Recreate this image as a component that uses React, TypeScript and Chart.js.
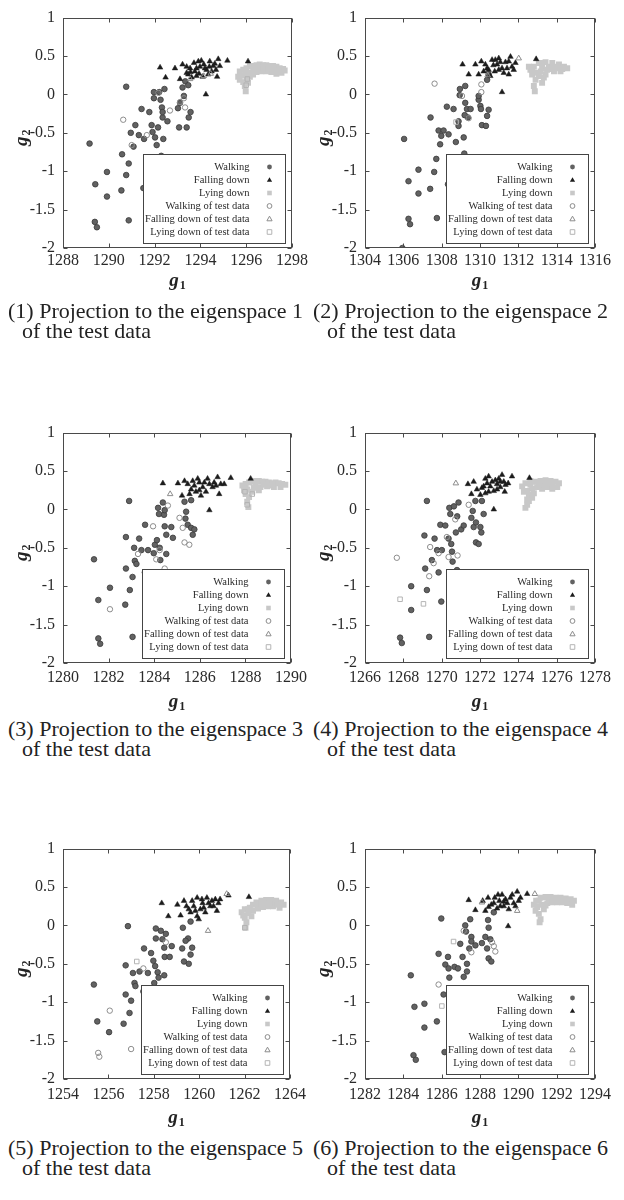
import React, { useEffect, useRef } from "react";
import { Chart, registerables } from "chart.js";
Chart.register(...registerables);

type P = [number, number];

const FONT = '"Liberation Serif", "Times New Roman", serif';

const legendLabels = [
  "Walking",
  "Falling down",
  "Lying down",
  "Walking of test data",
  "Falling down of test data",
  "Lying down of test data",
];

const captions = [
  "(1) Projection to the eigenspace 1",
  "(2) Projection to the eigenspace 2",
  "(3) Projection to the eigenspace 3",
  "(4) Projection to the eigenspace 4",
  "(5) Projection to the eigenspace 5",
  "(6) Projection to the eigenspace 6",
];
const captionLine2 = "of the test data";

const xMins = [1288, 1304, 1280, 1266, 1254, 1282];
const xMaxs = [1298, 1316, 1290, 1278, 1264, 1294];
const yMin = -2;
const yMax = 1;

const p1Walking: P[] = [
  [1289.16, -0.64], [1289.41, -1.17], [1289.92, -1.01], [1289.92, -1.33], [1289.39, -1.66], [1289.48, -1.73],
  [1290.76, 0.10], [1290.58, -0.78], [1290.55, -1.25], [1290.76, -1.05], [1290.87, -0.90], [1290.87, -1.64],
  [1290.96, -0.50], [1291.16, -0.40], [1291.31, -0.53], [1291.08, -0.68], [1291.43, -0.19], [1291.51, -1.22],
  [1291.54, -0.58], [1291.77, -0.23], [1291.87, -0.40], [1291.91, -0.49], [1291.97, 0.03], [1291.97, -0.05],
  [1292.02, -0.56], [1292.09, -0.66], [1292.15, -0.43], [1292.20, 0.03], [1292.26, -0.07], [1292.32, -0.17],
  [1292.35, -0.30], [1292.38, -0.58], [1292.29, -0.80], [1292.43, 0.07], [1292.56, -0.35], [1292.35, -0.23],
  [1293.02, -0.18], [1293.07, -0.43], [1293.11, -0.11], [1293.22, 0.09], [1293.28, -0.02], [1293.40, -0.43],
  [1293.49, -0.30], [1293.57, -0.23], [1293.34, 0.17], [1293.47, 0.12],
];
const p1Falling: P[] = [
  [1292.24, 0.35], [1292.48, 0.22], [1292.89, 0.34], [1293.11, 0.20], [1293.22, 0.39], [1293.40, 0.36],
  [1293.57, 0.29], [1293.72, 0.41], [1293.83, 0.34], [1293.94, 0.27], [1294.04, 0.44], [1294.15, 0.39],
  [1294.27, 0.32], [1294.41, 0.43], [1294.56, 0.37], [1294.68, 0.32], [1294.73, 0.23], [1294.78, 0.46],
  [1294.24, 0.00], [1295.18, 0.44], [1296.08, 0.43], [1293.62, 0.22], [1293.47, 0.26], [1294.10, 0.23],
  [1294.34, 0.26], [1294.49, 0.30], [1294.85, 0.37], [1293.83, 0.24], [1293.98, 0.36], [1293.76, 0.30],
  [1293.55, 0.34], [1294.20, 0.34], [1294.39, 0.36], [1294.63, 0.40], [1293.91, 0.43], [1293.40, 0.28],
];
const p1Lying: P[] = [
  [1295.72, 0.30], [1295.87, 0.32], [1296.01, 0.34], [1296.16, 0.37], [1296.30, 0.37], [1296.45, 0.38],
  [1296.59, 0.39], [1296.74, 0.38], [1296.88, 0.38], [1297.03, 0.37], [1297.17, 0.37], [1297.32, 0.36],
  [1297.46, 0.34], [1297.61, 0.33], [1297.68, 0.31], [1297.54, 0.28], [1297.32, 0.27], [1297.10, 0.29],
  [1296.88, 0.30], [1296.66, 0.30], [1296.45, 0.29], [1296.23, 0.28], [1296.01, 0.26], [1295.79, 0.25],
  [1295.65, 0.23], [1295.72, 0.19], [1295.87, 0.16], [1296.01, 0.20], [1296.16, 0.23], [1295.94, 0.11],
  [1295.98, 0.04], [1296.08, 0.15], [1296.30, 0.32], [1296.52, 0.34], [1296.74, 0.34], [1296.96, 0.34],
  [1297.17, 0.32], [1297.39, 0.31], [1296.30, 0.26], [1296.01, 0.30],
];
const p1TestWalking: P[] = [
  [1290.63, -0.33], [1292.67, -0.21], [1293.11, -0.10], [1293.28, -0.05], [1291.66, -0.53], [1291.00, -0.66],
  [1293.33, -0.17], [1292.17, 0.02],
];
const p1TestFalling: P[] = [[1294.15, 0.24], [1293.55, 0.20], [1294.45, 0.27]];
const p1TestLying: P[] = [[1296.05, 0.20], [1296.00, 0.12]];

const p2Walking: P[] = [
  [1306.04, -0.58], [1306.27, -1.13], [1306.79, -0.98], [1306.79, -1.29], [1306.27, -1.62], [1306.35, -1.69],
  [1305.95, -2.00], [1307.42, -0.30], [1307.40, -1.23], [1307.61, -1.01], [1307.72, -0.84], [1307.75, -1.61],
  [1307.84, -0.47], [1307.92, -0.65], [1307.98, -0.54], [1308.27, -0.16], [1308.33, -1.17], [1308.10, -0.47],
  [1308.36, -0.52], [1308.62, -0.19], [1308.74, -0.62], [1308.88, -0.41], [1308.95, 0.07], [1308.94, -0.01],
  [1309.15, -0.56], [1309.18, -0.77], [1309.23, 0.11], [1309.23, -0.11], [1309.32, -0.19], [1309.37, -0.30],
  [1309.20, -0.27], [1309.51, -0.19], [1309.93, -0.07], [1310.02, -0.15], [1310.05, -0.19], [1310.10, -0.40],
  [1310.31, -0.41], [1310.37, -0.28], [1310.45, -0.20], [1310.37, 0.19], [1310.45, 0.26], [1309.93, -0.02],
  [1308.88, -0.35],
];
const p2Falling: P[] = [
  [1309.09, 0.39], [1309.41, 0.26], [1309.76, 0.39], [1309.93, 0.26], [1310.07, 0.43], [1310.37, 0.34],
  [1310.63, 0.45], [1310.77, 0.30], [1310.89, 0.39], [1310.98, 0.47], [1311.15, 0.34], [1311.33, 0.42],
  [1311.50, 0.26], [1311.59, 0.49], [1311.67, 0.36], [1311.85, 0.41], [1311.15, 0.03], [1312.93, 0.46],
  [1310.54, 0.24], [1310.19, 0.30], [1310.70, 0.38], [1311.06, 0.42], [1311.41, 0.34], [1311.76, 0.32],
  [1310.28, 0.39], [1310.98, 0.32], [1311.24, 0.28], [1310.45, 0.32], [1310.80, 0.45], [1311.50, 0.43],
];
const p2Lying: P[] = [
  [1312.55, 0.36], [1312.63, 0.32], [1312.72, 0.26], [1312.81, 0.36], [1312.90, 0.19], [1312.81, 0.11],
  [1312.86, 0.04], [1312.98, 0.28], [1313.07, 0.41], [1313.07, 0.24], [1313.24, 0.34], [1313.24, 0.15],
  [1313.42, 0.42], [1313.42, 0.26], [1313.50, 0.32], [1313.59, 0.36], [1313.77, 0.41], [1313.86, 0.30],
  [1313.94, 0.34], [1314.12, 0.39], [1314.20, 0.30], [1314.38, 0.36], [1314.55, 0.34], [1313.24, 0.41],
  [1313.68, 0.33], [1314.03, 0.36], [1313.33, 0.22], [1312.72, 0.32], [1314.29, 0.33], [1313.16, 0.30],
];
const p2TestWalking: P[] = [
  [1307.63, 0.14], [1309.06, -0.02], [1309.41, -0.31], [1310.07, 0.03], [1310.07, 0.13],
];
const p2TestFalling: P[] = [[1312.02, 0.47], [1310.40, 0.25]];
const p2TestLying: P[] = [[1308.75, -0.36]];

const p3Walking: P[] = [
  [1281.36, -0.65], [1281.55, -1.18], [1282.06, -1.02], [1281.55, -1.68], [1281.63, -1.75], [1282.90, 0.11],
  [1282.76, -0.36], [1282.76, -0.77], [1282.73, -1.24], [1282.93, -1.05], [1283.05, -0.88], [1283.05, -1.66],
  [1283.12, -0.50], [1283.15, -0.67], [1283.22, -0.71], [1283.34, -0.38], [1283.44, -0.53], [1283.59, -0.82],
  [1283.60, -0.20], [1283.66, -1.21], [1283.73, -0.53], [1283.98, -0.57], [1284.03, -0.46], [1284.12, -0.40],
  [1284.17, 0.02], [1284.21, -0.06], [1284.24, -0.50], [1284.27, -0.66], [1284.38, 0.09], [1284.43, -0.07],
  [1284.46, -0.22], [1284.53, -0.33], [1284.53, -0.58], [1284.75, -0.23], [1284.82, -0.37], [1285.33, 0.10],
  [1285.40, -0.03], [1285.37, -0.12], [1285.47, -0.20], [1285.62, -0.24], [1285.69, -0.33], [1285.76, -0.26],
  [1285.62, 0.12], [1284.46, -0.01],
];
const p3Falling: P[] = [
  [1284.38, 0.34], [1285.04, 0.34], [1285.22, 0.18], [1285.33, 0.37], [1285.47, 0.33], [1285.62, 0.26],
  [1285.76, 0.31], [1285.91, 0.40], [1285.98, 0.25], [1286.05, 0.18], [1286.20, 0.35], [1286.34, 0.40],
  [1286.42, -0.01], [1286.56, 0.29], [1286.63, 0.35], [1286.78, 0.42], [1286.85, 0.20], [1287.36, 0.41],
  [1288.23, 0.40], [1286.92, 0.33], [1286.13, 0.29], [1285.69, 0.37], [1285.55, 0.20], [1286.27, 0.23],
  [1286.42, 0.33], [1285.98, 0.35], [1285.83, 0.23], [1286.71, 0.31], [1287.07, 0.33],
];
const p3Lying: P[] = [
  [1287.87, 0.31], [1287.94, 0.25], [1288.01, 0.33], [1288.01, 0.20], [1288.08, 0.26], [1288.08, 0.10],
  [1288.13, 0.03], [1288.16, 0.35], [1288.16, 0.16], [1288.30, 0.36], [1288.30, 0.23], [1288.37, 0.28],
  [1288.45, 0.37], [1288.59, 0.37], [1288.59, 0.25], [1288.66, 0.29], [1288.74, 0.36], [1288.88, 0.36],
  [1288.95, 0.30], [1289.03, 0.35], [1289.17, 0.34], [1289.25, 0.29], [1289.32, 0.35], [1289.46, 0.34],
  [1289.54, 0.29], [1289.61, 0.33], [1289.75, 0.32], [1288.81, 0.32], [1288.45, 0.31], [1289.10, 0.31],
];
const p3TestWalking: P[] = [
  [1283.95, -0.22], [1284.24, -0.53], [1284.09, -0.65], [1284.46, -0.77], [1284.60, 0.05], [1285.25, -0.24],
  [1285.33, -0.43], [1285.54, -0.46], [1282.06, -1.30], [1283.29, -0.58], [1285.11, -0.11],
];
const p3TestFalling: P[] = [[1284.70, 0.20]];
const p3TestLying: P[] = [[1287.98, 0.23], [1288.08, 0.06], [1288.30, 0.20]];

const p4Walking: P[] = [
  [1269.23, 0.11], [1269.10, -0.34], [1269.14, -0.77], [1269.23, -1.05], [1268.41, -1.00], [1268.41, -1.31],
  [1267.83, -1.67], [1267.92, -1.74], [1269.35, -1.66], [1269.63, -0.38], [1269.49, -0.66], [1269.76, -0.53],
  [1269.84, -0.82], [1269.93, -0.20], [1269.98, -1.20], [1270.01, -0.53], [1270.19, -0.21], [1270.36, -0.38],
  [1270.40, 0.02], [1270.45, -0.06], [1270.50, -0.45], [1270.54, -0.55], [1270.57, -0.68], [1270.64, 0.04],
  [1270.74, -0.30], [1270.80, -0.79], [1270.81, -0.09], [1270.88, 0.09], [1271.02, -0.26], [1271.15, -0.21],
  [1271.55, -0.11], [1271.62, -0.02], [1271.67, -0.23], [1271.76, 0.11], [1271.79, -0.43], [1271.93, -0.45],
  [1272.02, -0.23], [1272.10, 0.11], [1272.07, -0.30], [1272.19, -0.06], [1271.79, -0.17],
];
const p4Falling: P[] = [
  [1271.37, 0.33], [1271.55, 0.20], [1271.67, 0.36], [1272.02, 0.19], [1272.10, 0.28], [1272.28, 0.40],
  [1272.45, 0.43], [1272.54, 0.30], [1272.72, 0.24], [1272.80, 0.38], [1272.89, 0.33], [1272.98, 0.40],
  [1273.06, 0.29], [1273.15, 0.45], [1273.24, 0.36], [1273.29, 0.23], [1273.33, 0.32], [1272.72, 0.00],
  [1273.67, 0.43], [1274.58, 0.41], [1272.37, 0.34], [1272.63, 0.36], [1272.19, 0.30], [1272.89, 0.26],
  [1272.45, 0.23], [1273.06, 0.36], [1271.84, 0.26], [1273.47, 0.34], [1272.28, 0.21],
];
const p4Lying: P[] = [
  [1274.20, 0.30], [1274.29, 0.23], [1274.37, 0.34], [1274.37, 0.02], [1274.46, 0.24], [1274.46, 0.13],
  [1274.46, 0.06], [1274.55, 0.19], [1274.63, 0.37], [1274.72, 0.27], [1274.81, 0.21], [1274.90, 0.36],
  [1274.98, 0.29], [1275.16, 0.37], [1275.24, 0.33], [1275.24, 0.27], [1275.42, 0.38], [1275.51, 0.29],
  [1275.68, 0.37], [1275.77, 0.32], [1275.77, 0.27], [1275.94, 0.36], [1276.03, 0.29], [1276.12, 0.34],
  [1274.63, 0.32], [1275.07, 0.32], [1275.51, 0.34], [1274.72, 0.15], [1274.55, 0.11],
];
const p4TestWalking: P[] = [
  [1267.66, -0.63], [1269.40, -0.49], [1269.58, -0.70], [1269.35, -0.87], [1270.27, -0.36], [1270.83, -0.60],
  [1270.36, -0.62], [1270.71, -0.13], [1271.41, 0.06], [1269.84, -0.57],
];
const p4TestFalling: P[] = [[1270.74, 0.34]];
const p4TestLying: P[] = [[1267.83, -1.17], [1269.05, -1.23]];

const p5Walking: P[] = [
  [1255.36, -0.77], [1255.51, -1.25], [1256.03, -1.39], [1256.86, -0.01], [1256.76, -0.52], [1256.76, -0.90],
  [1256.67, -1.28], [1256.93, -1.14], [1257.00, -0.98], [1257.08, -0.62], [1257.15, -0.75], [1257.19, -0.79],
  [1257.37, -0.60], [1257.54, -0.86], [1257.57, -0.30], [1257.74, -0.62], [1257.88, -0.36], [1257.98, -0.46],
  [1258.02, -0.75], [1258.06, -0.53], [1258.09, -0.04], [1258.09, -0.17], [1258.17, -0.61], [1258.21, -0.68],
  [1258.31, -0.07], [1258.38, -0.18], [1258.38, -0.89], [1258.46, -0.65], [1258.46, -0.29], [1258.48, -0.41],
  [1258.53, -0.11], [1258.70, -0.41], [1258.79, -0.27], [1259.28, -0.03], [1259.25, -0.30], [1259.33, -0.47],
  [1259.54, -0.50], [1259.51, -0.17], [1259.62, -0.38], [1259.69, -0.29], [1259.62, 0.05], [1259.40, -0.20],
];
const p5Falling: P[] = [
  [1258.35, 0.29], [1258.64, 0.12], [1259.04, 0.27], [1259.18, 0.13], [1259.33, 0.32], [1259.44, 0.25],
  [1259.62, 0.17], [1259.76, 0.25], [1259.91, 0.36], [1259.98, 0.08], [1260.05, 0.21], [1260.15, 0.29],
  [1260.27, 0.17], [1260.34, 0.36], [1260.49, 0.25], [1260.56, 0.32], [1260.78, 0.19], [1260.85, 0.29],
  [1260.92, 0.34], [1261.29, 0.39], [1262.19, 0.37], [1259.83, 0.19], [1260.20, 0.23], [1260.41, 0.29],
  [1260.63, 0.25], [1259.69, 0.32], [1259.54, 0.21], [1260.12, 0.34], [1260.71, 0.34], [1259.91, 0.12],
];
const p5Lying: P[] = [
  [1261.87, 0.17], [1261.94, 0.13], [1262.01, 0.21], [1262.01, 0.10], [1262.04, -0.03], [1262.08, 0.04],
  [1262.16, 0.16], [1262.23, 0.23], [1262.30, 0.12], [1262.37, 0.27], [1262.37, 0.19], [1262.52, 0.30],
  [1262.59, 0.22], [1262.59, 0.27], [1262.74, 0.32], [1262.81, 0.24], [1262.88, 0.29], [1262.95, 0.33],
  [1263.03, 0.25], [1263.17, 0.33], [1263.25, 0.25], [1263.32, 0.29], [1263.39, 0.32], [1263.54, 0.23],
  [1263.61, 0.30], [1263.72, 0.27], [1262.16, 0.21], [1262.74, 0.27], [1263.10, 0.29], [1263.46, 0.27],
];
const p5TestWalking: P[] = [
  [1256.06, -1.11], [1257.00, -1.61], [1255.55, -1.66], [1255.60, -1.71], [1257.54, -0.56], [1257.63, -1.22],
  [1258.53, -0.22],
];
const p5TestFalling: P[] = [[1260.39, -0.07], [1261.21, 0.41]];
const p5TestLying: P[] = [[1257.25, -0.47], [1262.01, -0.03]];

const p6Walking: P[] = [
  [1284.39, -0.65], [1284.58, -1.06], [1285.10, -1.02], [1285.10, -1.33], [1284.53, -1.69], [1284.65, -1.75],
  [1285.98, 0.09], [1285.84, -0.37], [1285.75, -1.25], [1286.10, -0.90], [1286.15, -1.65], [1286.19, -0.51],
  [1286.33, -0.41], [1286.36, -0.56], [1286.40, -0.68], [1286.62, -0.84], [1286.71, -1.22], [1286.67, -0.54],
  [1286.85, -0.56], [1286.97, -0.24], [1287.09, -0.41], [1287.15, -0.67], [1287.23, 0.00], [1287.27, -0.08],
  [1287.32, -0.60], [1287.44, -0.30], [1287.49, 0.08], [1287.55, -0.15], [1287.55, -0.21], [1287.58, -0.82],
  [1287.76, -0.26], [1288.10, -0.23], [1288.28, -0.15], [1288.37, -0.30], [1288.42, 0.07], [1288.45, -0.03],
  [1288.45, -0.43], [1288.59, -0.47], [1288.54, -0.18], [1288.72, 0.17], [1287.32, -0.50],
];
const p6Falling: P[] = [
  [1287.41, 0.33], [1287.76, 0.20], [1288.14, 0.32], [1288.28, 0.19], [1288.42, 0.36], [1288.59, 0.27],
  [1288.77, 0.36], [1288.89, 0.22], [1289.01, 0.32], [1289.15, 0.40], [1289.24, 0.25], [1289.33, 0.34],
  [1289.47, -0.01], [1289.50, 0.21], [1289.59, 0.36], [1289.76, 0.29], [1289.94, 0.44], [1290.02, 0.32],
  [1290.46, 0.41], [1289.68, 0.40], [1289.42, 0.29], [1289.06, 0.25], [1288.72, 0.29], [1288.45, 0.24],
  [1288.94, 0.40], [1289.85, 0.25], [1290.11, 0.36], [1289.24, 0.31],
];
const p6Lying: P[] = [
  [1290.81, 0.27], [1290.90, 0.19], [1290.93, 0.32], [1290.98, 0.24], [1291.07, 0.15], [1291.11, 0.04],
  [1291.16, 0.08], [1291.16, 0.36], [1291.24, 0.27], [1291.33, 0.21], [1291.42, 0.37], [1291.51, 0.29],
  [1291.59, 0.34], [1291.68, 0.37], [1291.77, 0.30], [1291.94, 0.36], [1292.03, 0.30], [1292.12, 0.33],
  [1292.20, 0.36], [1292.29, 0.30], [1292.47, 0.35], [1292.55, 0.29], [1292.73, 0.34], [1292.81, 0.27],
  [1292.90, 0.32], [1291.07, 0.32], [1291.42, 0.26], [1291.86, 0.33], [1292.38, 0.32],
];
const p6TestWalking: P[] = [
  [1285.84, -0.77], [1287.15, -0.07], [1287.55, -0.35], [1288.72, -0.27], [1288.80, -0.34], [1288.63, -0.22],
];
const p6TestFalling: P[] = [[1288.10, 0.30], [1289.94, 0.19], [1290.86, 0.41]];
const p6TestLying: P[] = [[1286.62, -0.21], [1286.01, -1.05]];

const walkingSets = [p1Walking, p2Walking, p3Walking, p4Walking, p5Walking, p6Walking];
const fallingSets = [p1Falling, p2Falling, p3Falling, p4Falling, p5Falling, p6Falling];
const lyingSets = [p1Lying, p2Lying, p3Lying, p4Lying, p5Lying, p6Lying];
const testWalkingSets = [p1TestWalking, p2TestWalking, p3TestWalking, p4TestWalking, p5TestWalking, p6TestWalking];
const testFallingSets = [p1TestFalling, p2TestFalling, p3TestFalling, p4TestFalling, p5TestFalling, p6TestFalling];
const testLyingSets = [p1TestLying, p2TestLying, p3TestLying, p4TestLying, p5TestLying, p6TestLying];

const CANVAS_W = 312;
const CANVAS_H = 300;
const colLefts = [0, 312];
const rowTops = [0, 415, 831];
const padLeftByCol = [63, 53];
const padRightByCol = [20, 29];
const PAD_TOP = 14;
const AREA_H = 234;
const tickPadByRow = [3, 5, 6];
const titleOffsetByRow = [35, 41, 41];
const captionTops = [301, 719, 1138];
const captionLeft1 = [8, 313];
const captionLeft2 = [22, 327];

const COL_WALK = "#626262";
const COL_WALK_EDGE = "#3a3a3a";
const COL_FALL = "#1c1c1c";
const COL_LYING = "#c8c8c8";
const COL_TEST = "#8c8c8c";
const COL_TEST_LY = "#b4b4b4";

function drawSymbol(ctx: CanvasRenderingContext2D, kind: number, x: number, y: number) {
  ctx.save();
  ctx.lineWidth = 1;
  ctx.beginPath();
  if (kind === 0 || kind === 3) {
    ctx.arc(x, y, 2.4, 0, Math.PI * 2);
  } else if (kind === 1 || kind === 4) {
    ctx.moveTo(x, y - 2.8);
    ctx.lineTo(x + 2.6, y + 1.8);
    ctx.lineTo(x - 2.6, y + 1.8);
    ctx.closePath();
  } else {
    ctx.rect(x - 2.3, y - 2.3, 4.6, 4.6);
  }
  if (kind === 0) { ctx.fillStyle = COL_WALK; ctx.fill(); }
  else if (kind === 1) { ctx.fillStyle = COL_FALL; ctx.fill(); }
  else if (kind === 2) { ctx.fillStyle = COL_LYING; ctx.fill(); }
  else if (kind === 5) { ctx.strokeStyle = COL_TEST_LY; ctx.stroke(); }
  else { ctx.strokeStyle = COL_TEST; ctx.stroke(); }
  ctx.restore();
}

function drawSubTitle(ctx: CanvasRenderingContext2D, main: string, sub: string, cx: number, cy: number) {
  ctx.font = `italic bold 19px ${FONT}`;
  const w1 = ctx.measureText(main).width;
  ctx.font = `bold 12px ${FONT}`;
  const w2 = ctx.measureText(sub).width;
  const total = w1 + w2 + 1;
  const x0 = cx - total / 2;
  ctx.fillStyle = "#222";
  ctx.textBaseline = "alphabetic";
  ctx.textAlign = "left";
  ctx.font = `italic bold 19px ${FONT}`;
  ctx.fillText(main, x0, cy + 3);
  ctx.font = `bold 12px ${FONT}`;
  ctx.fillText(sub, x0 + w1 + 1, cy + 6);
}

function makeDecorPlugin(titleOffset: number) {
  return {
    id: "decor",
    afterDatasetsDraw(chart: any) {
      const { ctx, chartArea: a, scales } = chart;
      const xs = scales.x;
      const ys = scales.y;
      ctx.save();
      ctx.strokeStyle = "#4a4a4a";
      ctx.lineWidth = 1;
      const L = Math.round(a.left) + 0.5;
      const R = Math.round(a.right) - 0.5;
      const T = Math.round(a.top) + 0.5;
      const B = Math.round(a.bottom) - 0.5;
      ctx.strokeRect(L, T, R - L, B - T);
      ctx.beginPath();
      xs.ticks.forEach((t: any) => {
        const px = Math.round(xs.getPixelForValue(t.value)) + 0.5;
        ctx.moveTo(px, B); ctx.lineTo(px, B - 4);
        ctx.moveTo(px, T); ctx.lineTo(px, T + 4);
      });
      ys.ticks.forEach((t: any) => {
        const py = Math.round(ys.getPixelForValue(t.value)) + 0.5;
        ctx.moveTo(L, py); ctx.lineTo(L + 4, py);
        ctx.moveTo(R, py); ctx.lineTo(R - 4, py);
      });
      ctx.stroke();

      const bw = 142, bh = 89;
      const bx = Math.round(a.right - 7.5 - bw) + 0.5;
      const by = Math.round(a.bottom - 5 - bh) + 0.5;
      ctx.fillStyle = "#ffffff";
      ctx.fillRect(bx, by, bw, bh);
      ctx.strokeStyle = "#444";
      ctx.strokeRect(bx, by, bw, bh);
      ctx.font = `10.5px ${FONT}`;
      ctx.fillStyle = "#2a2a2a";
      ctx.textAlign = "right";
      ctx.textBaseline = "middle";
      legendLabels.forEach((lab, i) => {
        const yy = by + 12.5 + i * 13;
        ctx.fillText(lab, bx + 106, yy);
        drawSymbol(ctx, i, bx + 126, yy);
      });

      drawSubTitle(ctx, "g", "1", (a.left + a.right) / 2, a.bottom + titleOffset);
      ctx.save();
      ctx.translate(a.left - 39, (a.top + a.bottom) / 2 + 5);
      ctx.rotate(-Math.PI / 2);
      drawSubTitle(ctx, "g", "2", 0, 0);
      ctx.restore();
      ctx.restore();
    },
  };
}

function toPts(arr: P[]) {
  return arr.map(([x, y]) => ({ x, y }));
}

function Panel({ idx }: { idx: number }) {
  const ref = useRef<HTMLCanvasElement>(null);
  const col = idx % 2;
  const row = Math.floor(idx / 2);
  useEffect(() => {
    const canvas = ref.current;
    if (!canvas) return;
    const chart = new Chart(canvas, {
      type: "scatter",
      data: {
        datasets: [
          { label: legendLabels[5], data: toPts(testLyingSets[idx]), pointStyle: "rect", pointRadius: 3.2,
            backgroundColor: "rgba(255,255,255,0)", borderColor: COL_TEST_LY, borderWidth: 1 },
          { label: legendLabels[4], data: toPts(testFallingSets[idx]), pointStyle: "triangle", pointRadius: 3.2,
            backgroundColor: "rgba(255,255,255,0)", borderColor: COL_TEST, borderWidth: 1 },
          { label: legendLabels[3], data: toPts(testWalkingSets[idx]), pointStyle: "circle", pointRadius: 2.7,
            backgroundColor: "rgba(255,255,255,0)", borderColor: COL_TEST, borderWidth: 1 },
          { label: legendLabels[1], data: toPts(fallingSets[idx]), pointStyle: "triangle", pointRadius: 3.2,
            backgroundColor: COL_FALL, borderColor: COL_FALL, borderWidth: 0.5 },
          { label: legendLabels[0], data: toPts(walkingSets[idx]), pointStyle: "circle", pointRadius: 2.8,
            backgroundColor: COL_WALK, borderColor: COL_WALK_EDGE, borderWidth: 0.8 },
          { label: legendLabels[2], data: toPts(lyingSets[idx]), pointStyle: "rect", pointRadius: 4.2,
            backgroundColor: COL_LYING, borderColor: COL_LYING, borderWidth: 0 },
        ],
      },
      options: {
        animation: false,
        responsive: false,
        devicePixelRatio: 1,
        events: [],
        layout: { padding: { top: PAD_TOP, right: padRightByCol[col], left: 0, bottom: 0 } },
        plugins: { legend: { display: false }, tooltip: { enabled: false }, title: { display: false } },
        scales: {
          x: {
            type: "linear",
            min: xMins[idx],
            max: xMaxs[idx],
            border: { display: false },
            grid: { display: false, drawTicks: false },
            ticks: {
              stepSize: 2, padding: tickPadByRow[row], autoSkip: false, maxRotation: 0, color: "#2a2a2a",
              font: { family: FONT, size: 16 },
              callback: (v: any) => String(Math.round(Number(v))),
            },
            afterFit: (s: any) => { s.height = CANVAS_H - PAD_TOP - AREA_H; },
          },
          y: {
            type: "linear",
            min: yMin,
            max: yMax,
            border: { display: false },
            grid: { display: false, drawTicks: false },
            ticks: {
              stepSize: 0.5, padding: 8, color: "#2a2a2a",
              font: { family: FONT, size: 16 },
              callback: (v: any) => String(Math.round(Number(v) * 10) / 10),
            },
            afterFit: (s: any) => { s.width = padLeftByCol[col]; },
          },
        },
      },
      plugins: [makeDecorPlugin(titleOffsetByRow[row])],
    } as any);
    return () => chart.destroy();
  }, [idx, col, row]);
  return (
    <canvas
      ref={ref}
      width={CANVAS_W}
      height={CANVAS_H}
      style={{ position: "absolute", left: colLefts[col], top: rowTops[row], width: CANVAS_W, height: CANVAS_H }}
    />
  );
}

export default function App() {
  const capStyle: React.CSSProperties = {
    position: "absolute", fontFamily: FONT, fontSize: 22, lineHeight: "20px", color: "#222", whiteSpace: "nowrap",
  };
  return (
    <div style={{ position: "absolute", left: 0, top: 0, width: 624, height: 1200, background: "#fff", overflow: "hidden" }}>
      {[0, 1, 2, 3, 4, 5].map((i) => (
        <Panel key={i} idx={i} />
      ))}
      {captions.map((c, i) => {
        const col = i % 2;
        const row = Math.floor(i / 2);
        return (
          <React.Fragment key={"c" + i}>
            <div style={{ ...capStyle, left: captionLeft1[col], top: captionTops[row] }}>{c}</div>
            <div style={{ ...capStyle, left: captionLeft2[col], top: captionTops[row] + 20 }}>{captionLine2}</div>
          </React.Fragment>
        );
      })}
    </div>
  );
}
